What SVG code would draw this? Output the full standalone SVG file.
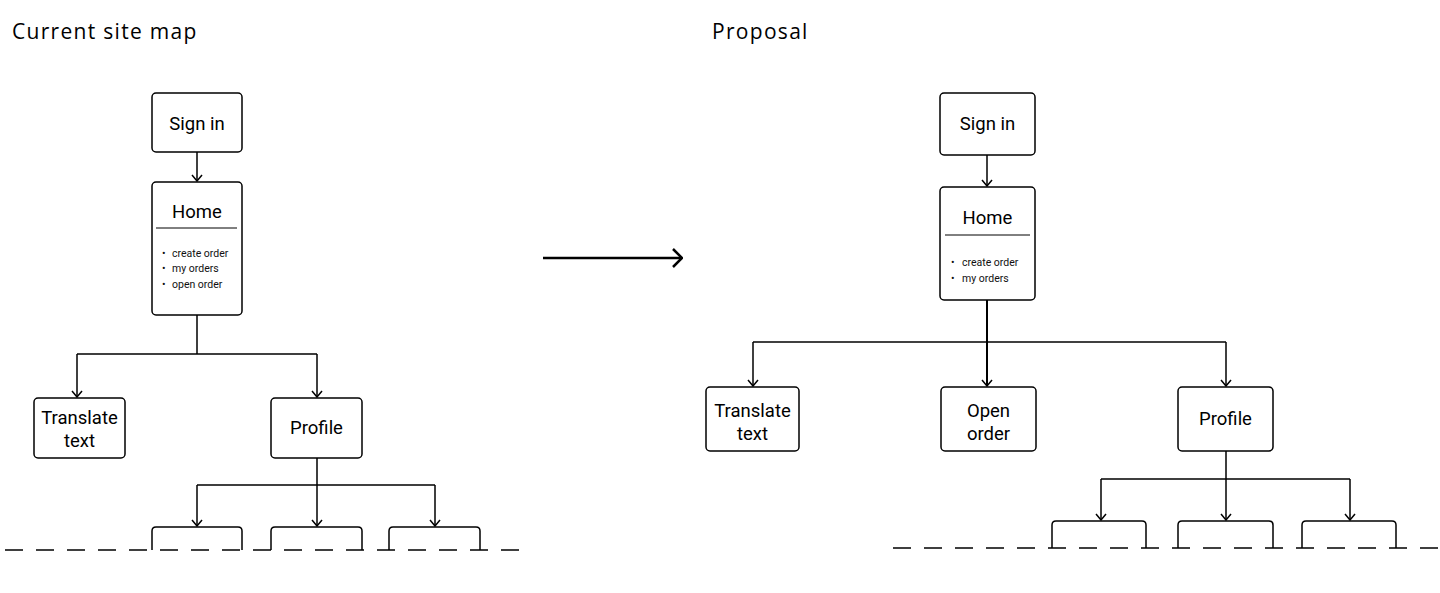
<svg xmlns="http://www.w3.org/2000/svg" width="1440" height="593" viewBox="0 0 1440 593">
<defs>
<style>
.box{fill:#fff;stroke:#000;stroke-width:1.5}
.open{fill:none;stroke:#000;stroke-width:1.5}
.lbl{font-family:Roboto,"Liberation Sans",sans-serif;font-size:18.5px;fill:#000;text-anchor:middle}
.bul{font-family:Roboto,"Liberation Sans",sans-serif;font-size:10.5px;fill:#111}
.title{font-family:"Open Sans","Noto Sans",sans-serif;font-size:21px;letter-spacing:1.3px;fill:#000}
.c{fill:none;stroke:#000;stroke-width:1.5}
.dash{fill:none;stroke:#000;stroke-width:1.5;stroke-dasharray:18 13}
.div{stroke:#000;stroke-width:1}
</style>
<marker id="ah" viewBox="0 0 12 12" refX="11" refY="6" markerWidth="12" markerHeight="12" markerUnits="userSpaceOnUse" orient="auto">
<path d="M5,1 L11,6 L5,11" fill="none" stroke="#000" stroke-width="1.5"/>
</marker>
<marker id="big" viewBox="0 0 20 20" refX="19" refY="10" markerWidth="20" markerHeight="20" markerUnits="userSpaceOnUse" orient="auto">
<path d="M10,1 L19,10 L10,19" fill="none" stroke="#000" stroke-width="2.5"/>
</marker>
</defs>
<rect width="1440" height="593" fill="#fff"/>
<text class="title" x="12" y="39">Current site map</text>
<text class="title" x="712" y="39">Proposal</text>

<g id="connectors">
<path class="c" d="M197,152 V181" marker-end="url(#ah)"/>
<path class="c" d="M197,315 V354 M77,354 H317"/>
<path class="c" d="M77,354 V397" marker-end="url(#ah)"/>
<path class="c" d="M317,354 V397" marker-end="url(#ah)"/>
<path class="c" d="M317,458 V485 M197,485 H435"/>
<path class="c" d="M197,485 V526" marker-end="url(#ah)"/>
<path class="c" d="M317,485 V526" marker-end="url(#ah)"/>
<path class="c" d="M435,485 V526" marker-end="url(#ah)"/>
<path d="M543,258 H682" fill="none" stroke="#000" stroke-width="2.5" marker-end="url(#big)"/>
<path class="c" d="M987,155 V186" marker-end="url(#ah)"/>
<path d="M987,300 V386" fill="none" stroke="#000" stroke-width="2" marker-end="url(#ah)"/>
<path class="c" d="M753,342 H1226"/>
<path class="c" d="M753,342 V386" marker-end="url(#ah)"/>
<path class="c" d="M1226,342 V386" marker-end="url(#ah)"/>
<path class="c" d="M1226,451 V479 M1101,479 H1350"/>
<path class="c" d="M1101,479 V520" marker-end="url(#ah)"/>
<path class="c" d="M1226,479 V520" marker-end="url(#ah)"/>
<path class="c" d="M1350,479 V520" marker-end="url(#ah)"/>
<path class="dash" d="M5,550 H521"/>
<path class="dash" d="M893,548 H1440"/>
</g>

<g id="l-signin"><rect class="box" x="152" y="93" width="90" height="59" rx="4"/><text class="lbl" x="197" y="130">Sign in</text></g>
<g id="l-home"><rect class="box" x="152" y="182" width="90" height="133" rx="4"/><text class="lbl" x="197" y="218">Home</text><line class="div" x1="156" y1="228" x2="237" y2="228"/>
<text class="bul" x="162" y="257">•</text><text class="bul" x="172" y="257">create order</text>
<text class="bul" x="162" y="272">•</text><text class="bul" x="172" y="272">my orders</text>
<text class="bul" x="162" y="288">•</text><text class="bul" x="172" y="288">open order</text></g>
<g id="l-translate"><rect class="box" x="34" y="398" width="91" height="60" rx="4"/><text class="lbl" x="79.5" y="424">Translate</text><text class="lbl" x="79.5" y="447">text</text></g>
<g id="l-profile"><rect class="box" x="271" y="398" width="91" height="60" rx="4"/><text class="lbl" x="316.5" y="434">Profile</text></g>
<g id="l-c1"><path class="open" d="M152,550 V531 Q152,527 156,527 H238 Q242,527 242,531 V550"/></g>
<g id="l-c2"><path class="open" d="M271,550 V531 Q271,527 275,527 H358 Q362,527 362,531 V550"/></g>
<g id="l-c3"><path class="open" d="M389,550 V531 Q389,527 393,527 H476 Q480,527 480,531 V550"/></g>

<g id="r-signin"><rect class="box" x="940" y="93" width="95" height="62" rx="4"/><text class="lbl" x="987.5" y="130">Sign in</text></g>
<g id="r-home"><rect class="box" x="940" y="187" width="95" height="113" rx="4"/><text class="lbl" x="987.5" y="224">Home</text><line class="div" x1="945" y1="235" x2="1030" y2="235"/>
<text class="bul" x="951" y="265.5">•</text><text class="bul" x="962" y="265.5">create order</text>
<text class="bul" x="951" y="281.5">•</text><text class="bul" x="962" y="281.5">my orders</text></g>
<g id="r-translate"><rect class="box" x="706" y="387" width="93" height="64" rx="4"/><text class="lbl" x="752.5" y="417">Translate</text><text class="lbl" x="752.5" y="440">text</text></g>
<g id="r-open"><rect class="box" x="941" y="387" width="95" height="64" rx="4"/><text class="lbl" x="988.5" y="417">Open</text><text class="lbl" x="988.5" y="440">order</text></g>
<g id="r-profile"><rect class="box" x="1178" y="387" width="95" height="64" rx="4"/><text class="lbl" x="1225.5" y="425">Profile</text></g>
<g id="r-c1"><path class="open" d="M1052,548 V525 Q1052,521 1056,521 H1142 Q1146,521 1146,525 V548"/></g>
<g id="r-c2"><path class="open" d="M1178,548 V525 Q1178,521 1182,521 H1269 Q1273,521 1273,525 V548"/></g>
<g id="r-c3"><path class="open" d="M1302,548 V525 Q1302,521 1306,521 H1392 Q1396,521 1396,525 V548"/></g>
</svg>
